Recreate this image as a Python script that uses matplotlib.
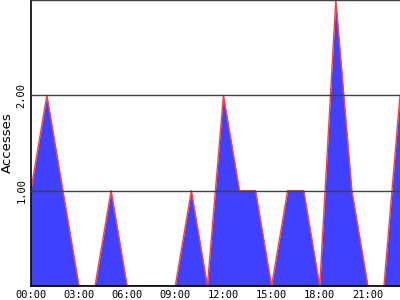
import matplotlib
matplotlib.use('Agg')
import matplotlib.pyplot as plt

# hourly access counts, 00:00 .. 23:00
hours = list(range(24))
accesses = [1, 2, 1, 0, 0, 1, 0, 0, 0, 0, 1, 0,
            2, 1, 1, 0, 1, 1, 0, 3, 1, 0, 0, 2]

xtick_pos = [0, 3, 6, 9, 12, 15, 18, 21]
xtick_labels = ['00:00', '03:00', '06:00', '09:00', '12:00', '15:00', '18:00', '21:00']
ytick_pos = [1, 2, 3]
ytick_labels = ['1.00', '2.00', '']

fig = plt.figure(figsize=(4, 3), dpi=100)
ax = fig.add_axes([0.077, 0.047, 0.923, 0.953])

ax.fill_between(hours, accesses, 0, color='#4040ff', linewidth=0)
ax.plot(hours, accesses, color='#ff4040', linewidth=1)

ax.set_xlim(0, 23)
ax.set_ylim(0, 3)

ax.set_xticks(xtick_pos)
ax.set_xticklabels(xtick_labels, family='DejaVu Sans Mono', fontsize=7.5)
ax.set_yticks(ytick_pos)
ax.set_yticklabels(ytick_labels, family='DejaVu Sans Mono', fontsize=7.5,
                   rotation=90, va='center')
ax.tick_params(length=0, pad=3)

ax.grid(axis='y', color='#404040', linewidth=1)
ax.set_axisbelow(False)
for s in ['top', 'right']:
    ax.spines[s].set_visible(False)
ax.spines['left'].set_linewidth(1.2)
ax.spines['bottom'].set_linewidth(1.2)

ax.set_ylabel('Accesses', fontsize=9.5, labelpad=2)

fig.savefig('out.png', dpi=100)
